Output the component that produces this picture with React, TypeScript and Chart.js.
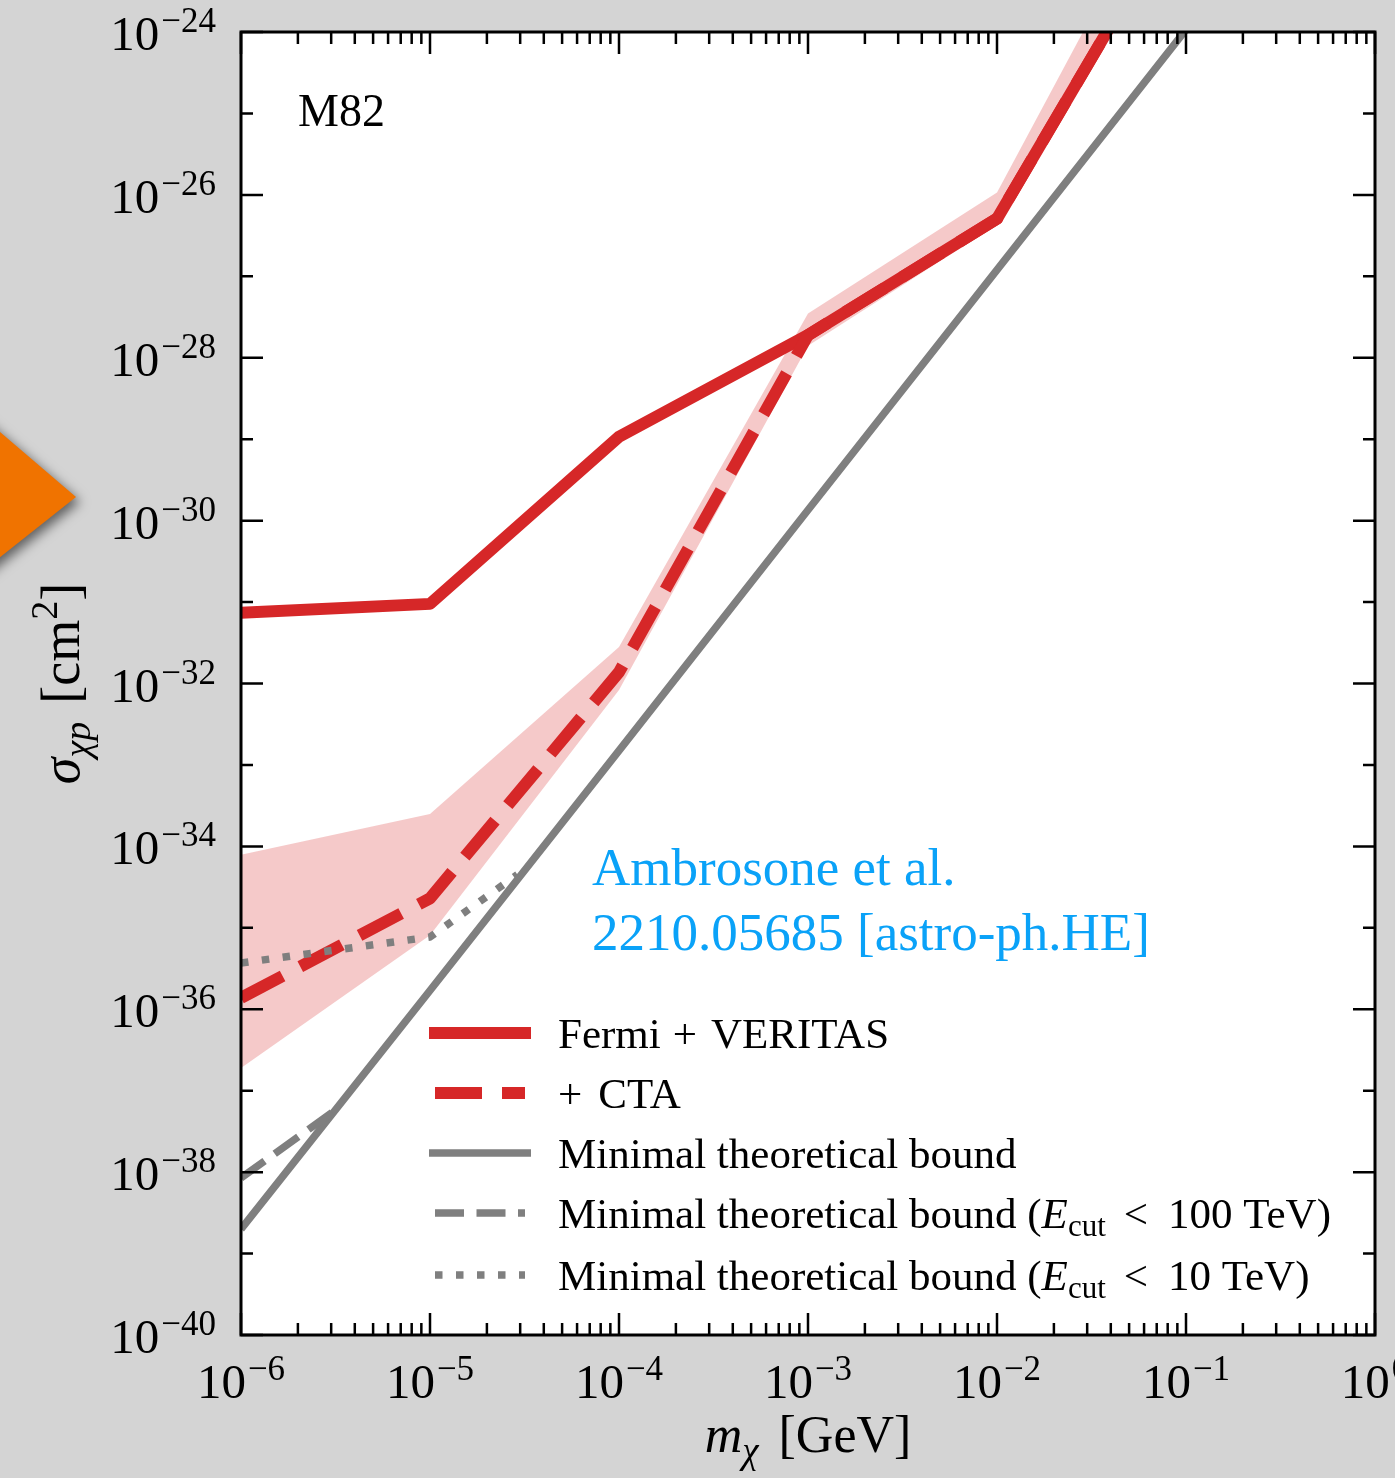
import React, { useEffect, useRef } from "react";
import { Chart, registerables } from "chart.js";

Chart.register(...registerables);

// Dark-matter mass grid [GeV]
const massGeV = [1e-6, 1e-5, 1e-4, 1e-3, 1e-2, 1e-1];

// Upper limits on sigma_chi p [cm^2] for M82
const fermiVeritas = [7.4e-32, 9.5e-32, 1.07e-29, 1.9e-28, 5.1e-27, 4.5e-23];
const withCTA = [1.38e-36, 2.3e-35, 1.38e-32, 1.9e-28, 5.1e-27, 4.5e-23];
const ctaBandUpper = [7.9e-35, 2.5e-34, 2.8e-32, 3.5e-28, 1.07e-26, 2.3e-22];
const ctaBandLower = [1.9e-37, 8.1e-36, 8.3e-33, 1.4e-28, 4.3e-27, 3.2e-23];

// Minimal theoretical bounds
const minBound = [2.0e-39, 1.7e-36, 1.5e-33, 1.35e-30, 1.2e-27, 1.07e-24];
const minBound100Mass = [1e-6, 3.3e-6];
const minBound100 = [8.5e-39, 6.2e-38];
const minBound10Mass = [1e-6, 1e-5, 2.9e-5];
const minBound10 = [3.7e-36, 7.7e-36, 4.5e-35];

// Axis decades
const xExponents = [-6, -5, -4, -3, -2, -1, 0];
const yExponents = [-40, -38, -36, -34, -32, -30, -28, -26, -24];

const RED = "#d62728";
const GRAY = "#7f7f7f";
const BAND = "rgba(214,39,40,0.25)";
const SERIF = '"Liberation Serif", "Times New Roman", serif';

type Seg = { t: string; size: number; italic?: boolean; dy?: number; gap?: number };

const font = (s: Seg) => `${s.italic ? "italic " : ""}${s.size}px ${SERIF}`;

function segsWidth(ctx: CanvasRenderingContext2D, segs: Seg[]) {
  let w = 0;
  for (const s of segs) {
    ctx.font = font(s);
    w += (s.gap || 0) + ctx.measureText(s.t).width;
  }
  return w;
}

function drawSegs(ctx: CanvasRenderingContext2D, segs: Seg[], x: number, y: number) {
  let cx = x;
  for (const s of segs) {
    cx += s.gap || 0;
    ctx.font = font(s);
    ctx.fillText(s.t, cx, y + (s.dy || 0));
    cx += ctx.measureText(s.t).width;
  }
  return cx;
}

const powerLabel = (exp: number): Seg[] => [
  { t: "10", size: 49 },
  { t: exp < 0 ? "\u2212" + Math.abs(exp) : String(exp), size: 35, dy: -18, gap: 2 },
];

const LEG = 43;
const legendRows: { color: string; width: number; dash: number[]; label: Seg[] }[] = [
  {
    color: RED,
    width: 12,
    dash: [],
    label: [
      { t: "Fermi", size: LEG },
      { t: "+", size: LEG, gap: 12 },
      { t: "VERITAS", size: LEG, gap: 14 },
    ],
  },
  {
    color: RED,
    width: 12,
    dash: [47, 20],
    label: [
      { t: "+", size: LEG },
      { t: "CTA", size: LEG, gap: 16 },
    ],
  },
  { color: GRAY, width: 7.5, dash: [], label: [{ t: "Minimal theoretical bound", size: LEG }] },
  {
    color: GRAY,
    width: 7.5,
    dash: [29, 12.5],
    label: [
      { t: "Minimal theoretical bound (", size: LEG },
      { t: "E", size: LEG, italic: true },
      { t: "cut", size: 31, dy: 8 },
      { t: "<", size: LEG, gap: 18 },
      { t: "100 TeV)", size: LEG, gap: 20 },
    ],
  },
  {
    color: GRAY,
    width: 7.5,
    dash: [7.5, 13.5],
    label: [
      { t: "Minimal theoretical bound (", size: LEG },
      { t: "E", size: LEG, italic: true },
      { t: "cut", size: 31, dy: 8 },
      { t: "<", size: LEG, gap: 18 },
      { t: "10 TeV)", size: LEG, gap: 20 },
    ],
  },
];

const decorPlugin = {
  id: "decor",
  beforeDraw(chart: any) {
    const { ctx, chartArea: a, width, height } = chart;
    ctx.save();
    ctx.fillStyle = "#d4d4d4";
    ctx.fillRect(0, 0, width, height);
    ctx.fillStyle = "#ffffff";
    ctx.fillRect(a.left, a.top, a.right - a.left, a.bottom - a.top);
    // orange pointer on the left margin
    ctx.shadowColor = "rgba(0,0,0,0.55)";
    ctx.shadowBlur = 12;
    ctx.shadowOffsetX = 4;
    ctx.shadowOffsetY = 5;
    ctx.fillStyle = "#f07300";
    ctx.beginPath();
    ctx.moveTo(-20, 415);
    ctx.lineTo(76, 497);
    ctx.lineTo(-20, 573);
    ctx.closePath();
    ctx.fill();
    ctx.restore();
  },
  afterDatasetsDraw(chart: any) {
    const { ctx, chartArea: a } = chart;
    const xs = chart.scales.x;
    const ys = chart.scales.y;
    ctx.save();

    // frame
    ctx.strokeStyle = "#000";
    ctx.lineWidth = 3;
    ctx.strokeRect(a.left, a.top, a.right - a.left, a.bottom - a.top);

    // x ticks (inward, top and bottom)
    ctx.lineWidth = 2.5;
    ctx.beginPath();
    for (let e = -6; e <= 0; e++) {
      for (let k = 1; k <= 9; k++) {
        if (e === 0 && k > 1) break;
        const px = xs.getPixelForValue(k * Math.pow(10, e));
        const len = k === 1 ? 22 : 12;
        ctx.moveTo(px, a.bottom);
        ctx.lineTo(px, a.bottom - len);
        ctx.moveTo(px, a.top);
        ctx.lineTo(px, a.top + len);
      }
    }
    // y ticks (inward, left and right)
    for (let e = -40; e <= -24; e++) {
      const py = ys.getPixelForValue(Math.pow(10, e));
      const len = e % 2 === 0 ? 22 : 12;
      ctx.moveTo(a.left, py);
      ctx.lineTo(a.left + len, py);
      ctx.moveTo(a.right, py);
      ctx.lineTo(a.right - len, py);
    }
    ctx.stroke();

    // tick labels
    ctx.fillStyle = "#000";
    ctx.textBaseline = "alphabetic";
    ctx.textAlign = "left";
    for (const e of xExponents) {
      const segs = powerLabel(e);
      const w = segsWidth(ctx, segs);
      const px = xs.getPixelForValue(Math.pow(10, e));
      drawSegs(ctx, segs, px - w / 2, a.bottom + 63);
    }
    for (const e of yExponents) {
      const segs = powerLabel(e);
      const w = segsWidth(ctx, segs);
      const py = ys.getPixelForValue(Math.pow(10, e));
      drawSegs(ctx, segs, a.left - 25 - w, py + 18);
    }

    // axis titles
    const xTitle: Seg[] = [
      { t: "m", size: 52, italic: true },
      { t: "\u03c7", size: 37, italic: true, dy: 11 },
      { t: "[GeV]", size: 52, gap: 20 },
    ];
    const xw = segsWidth(ctx, xTitle);
    drawSegs(ctx, xTitle, (a.left + a.right) / 2 - xw / 2, 1452);

    const yTitle: Seg[] = [
      { t: "\u03c3", size: 54, italic: true },
      { t: "\u03c7p", size: 38, italic: true, dy: 11 },
      { t: "[cm", size: 54, gap: 18 },
      { t: "2", size: 38, dy: -22 },
      { t: "]", size: 54 },
    ];
    const yw = segsWidth(ctx, yTitle);
    ctx.save();
    ctx.translate(79, (a.top + a.bottom) / 2);
    ctx.rotate(-Math.PI / 2);
    drawSegs(ctx, yTitle, -yw / 2, 0);
    ctx.restore();

    // source name
    ctx.font = `46px ${SERIF}`;
    ctx.fillText("M82", 298, 126);

    // reference note
    ctx.fillStyle = "#0aa2f8";
    ctx.font = `53px ${SERIF}`;
    ctx.fillText("Ambrosone et al.", 592, 885);
    ctx.fillText("2210.05685 [astro-ph.HE]", 592, 950);

    // legend
    const rowY = [1033, 1093, 1153, 1213, 1275];
    legendRows.forEach((r, i) => {
      const y = rowY[i];
      ctx.strokeStyle = r.color;
      ctx.lineWidth = r.width;
      ctx.lineCap = "butt";
      ctx.setLineDash(r.dash);
      ctx.beginPath();
      if (r.dash.length) {
        ctx.moveTo(435, y);
        ctx.lineTo(525, y);
      } else {
        ctx.moveTo(429, y);
        ctx.lineTo(531, y);
      }
      ctx.stroke();
      ctx.setLineDash([]);
      ctx.fillStyle = "#000";
      drawSegs(ctx, r.label, 558, y + 15);
    });

    ctx.restore();
  },
};

const pts = (xv: number[], yv: number[]) => xv.map((x, i) => ({ x, y: yv[i] }));

export default function App() {
  const canvasRef = useRef<HTMLCanvasElement | null>(null);

  useEffect(() => {
    if (!canvasRef.current) return;
    const lineBase = { pointRadius: 0, tension: 0, clip: 0, borderJoinStyle: "round" as const };
    const chart = new Chart(canvasRef.current, {
      type: "line",
      data: {
        datasets: [
          {
            ...lineBase,
            label: "CTA band upper",
            data: pts(massGeV, ctaBandUpper),
            borderWidth: 0,
            borderColor: "rgba(0,0,0,0)",
            backgroundColor: BAND,
            fill: "+1",
            order: 11,
          },
          {
            ...lineBase,
            label: "CTA band lower",
            data: pts(massGeV, ctaBandLower),
            borderWidth: 0,
            borderColor: "rgba(0,0,0,0)",
            fill: false,
            order: 10,
          },
          {
            ...lineBase,
            label: "Fermi + VERITAS",
            data: pts(massGeV, fermiVeritas),
            borderColor: RED,
            borderWidth: 12,
            fill: false,
            order: 5,
          },
          {
            ...lineBase,
            label: "+ CTA",
            data: pts(massGeV, withCTA),
            borderColor: RED,
            borderWidth: 12,
            borderDash: [47, 20],
            borderCapStyle: "butt",
            fill: false,
            order: 4,
          },
          {
            ...lineBase,
            label: "Minimal theoretical bound",
            data: pts(massGeV, minBound),
            borderColor: GRAY,
            borderWidth: 7.5,
            fill: false,
            order: 3,
          },
          {
            ...lineBase,
            label: "Minimal theoretical bound (Ecut < 100 TeV)",
            data: pts(minBound100Mass, minBound100),
            borderColor: GRAY,
            borderWidth: 7.5,
            borderDash: [29, 12.5],
            borderCapStyle: "butt",
            fill: false,
            order: 2,
          },
          {
            ...lineBase,
            label: "Minimal theoretical bound (Ecut < 10 TeV)",
            data: pts(minBound10Mass, minBound10),
            borderColor: GRAY,
            borderWidth: 7.5,
            borderDash: [7.5, 13.5],
            borderCapStyle: "butt",
            fill: false,
            order: 1,
          },
        ],
      },
      options: {
        responsive: false,
        animation: false,
        events: [],
        layout: { padding: { left: 241, right: 20, top: 32, bottom: 143 } },
        plugins: { legend: { display: false }, tooltip: { enabled: false } },
        scales: {
          x: { type: "logarithmic", min: 1e-6, max: 1, display: false },
          y: { type: "logarithmic", min: 1e-40, max: 1e-24, display: false },
        },
      },
      plugins: [decorPlugin],
    });
    return () => chart.destroy();
  }, []);

  return (
    <div style={{ position: "absolute", left: 0, top: 0, width: 1395, height: 1478 }}>
      <canvas ref={canvasRef} width={1395} height={1478} style={{ width: 1395, height: 1478, display: "block" }} />
    </div>
  );
}
